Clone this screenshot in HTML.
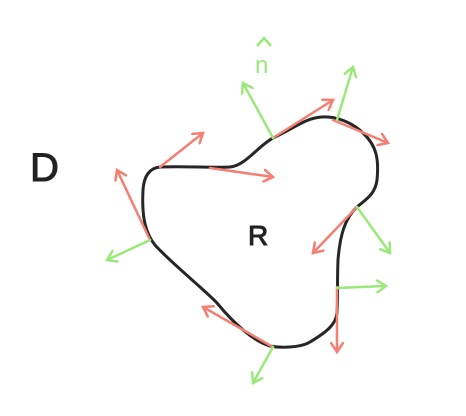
<!DOCTYPE html>
<html><head><meta charset="utf-8"><style>html,body{margin:0;padding:0;background:#fff;}svg{display:block}</style></head>
<body>
<svg width="466" height="416" viewBox="0 0 466 416" xmlns="http://www.w3.org/2000/svg">
<defs>
<marker id="ar" markerWidth="14" markerHeight="14" refX="10" refY="7" orient="auto" markerUnits="userSpaceOnUse"><path d="M1,1 L10,7 L1,13" fill="none" stroke="#f47f72" stroke-width="2.5" stroke-linecap="round"/></marker>
<marker id="ag" markerWidth="14" markerHeight="14" refX="10" refY="7" orient="auto" markerUnits="userSpaceOnUse"><path d="M1,1 L10,7 L1,13" fill="none" stroke="#9be87a" stroke-width="2.5" stroke-linecap="round"/></marker>
</defs>
<rect width="466" height="416" fill="#fff"/>
<text x="30" y="181" font-family="Liberation Sans, sans-serif" font-size="40" fill="#222" stroke="#222" stroke-width="1">D</text>
<text x="248" y="245" font-family="Liberation Sans, sans-serif" font-size="28" fill="#222" stroke="#222" stroke-width="1">R</text>
<text x="255" y="73" font-family="Liberation Sans, sans-serif" font-size="24" fill="#9be87a">n</text>
<path d="M257,46 L264,38 L271,46" fill="none" stroke="#9be87a" stroke-width="2.5"/>
<path d="M160,167 C185,166 215,168 230,167 C245,166 258,146 273,138 C295,128 305,118 322,117 C335,116 352,122 363,133 C377,146 379,160 377,180 C375,195 365,200 357,207 C345,218 340,235 338,260 C337,285 338,300 337,313 C336,325 325,333 310,342 C300,348 280,348 270,346 C255,342 235,325 217,303 C205,290 170,262 155,245 C143,230 142,210 143,190 C144,175 150,168 160,167 Z" fill="none" stroke="#262626" stroke-width="3"/>
<g stroke="#f47f72" stroke-width="2.5" fill="none" stroke-linecap="round">
<line x1="160" y1="167" x2="203" y2="133" marker-end="url(#ar)"/>
<line x1="210" y1="168" x2="273" y2="177" marker-end="url(#ar)"/>
<line x1="273" y1="138" x2="333" y2="100" marker-end="url(#ar)"/>
<line x1="333" y1="120" x2="388" y2="143" marker-end="url(#ar)"/>
<line x1="357" y1="207" x2="313" y2="253" marker-end="url(#ar)"/>
<line x1="337" y1="287" x2="337" y2="352" marker-end="url(#ar)"/>
<line x1="273" y1="347" x2="203" y2="307" marker-end="url(#ar)"/>
<line x1="150" y1="240" x2="117" y2="170" marker-end="url(#ar)"/>
</g>
<g stroke="#9be87a" stroke-width="2.5" fill="none" stroke-linecap="round">
<line x1="273" y1="138" x2="243" y2="83" marker-end="url(#ag)"/>
<line x1="337" y1="120" x2="353" y2="67" marker-end="url(#ag)"/>
<line x1="357" y1="207" x2="390" y2="253" marker-end="url(#ag)"/>
<line x1="337" y1="288" x2="386" y2="286" marker-end="url(#ag)"/>
<line x1="273" y1="347" x2="253" y2="383" marker-end="url(#ag)"/>
<line x1="150" y1="240" x2="107" y2="260" marker-end="url(#ag)"/>
</g>
</svg>
</body></html>
